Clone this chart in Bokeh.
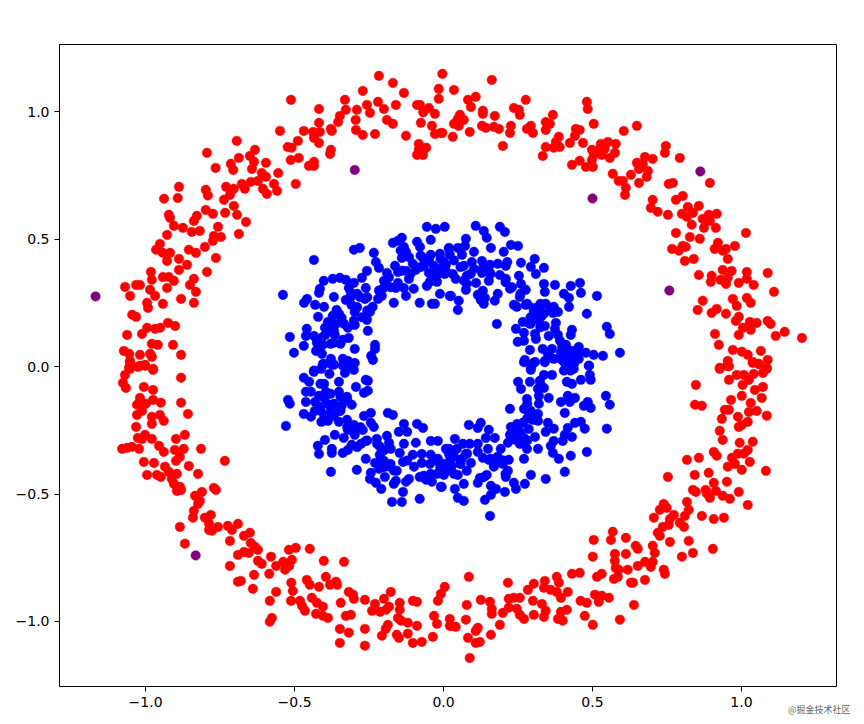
from bokeh.plotting import figure
from bokeh.models import FixedTicker, Title, Range1d
from bokeh.embed import file_html
from bokeh.resources import INLINE

outer_ring = [
(-0.217,1.140),(-0.170,1.112),(-0.271,1.081),(-0.133,1.073),(-0.004,1.148),(-0.016,1.089),(-0.016,1.050),(-0.512,1.046),(-0.331,1.046),(-0.418,1.010),
(-0.328,1.007),(-0.291,1.007),(-0.257,1.026),(-0.247,0.995),(-0.220,1.038),(-0.200,1.010),(-0.160,1.026),(-0.190,0.967),(-0.170,0.952),(-0.348,0.983),
(-0.354,0.959),(-0.295,0.967),(-0.418,0.956),(-0.549,0.924),(-0.469,0.924),(-0.438,0.920),(-0.415,0.920),(-0.378,0.932),(-0.375,0.924),(-0.435,0.897),
(-0.418,0.877),(-0.294,0.928),(-0.271,0.908),(-0.230,0.912),(-0.126,0.905),(-0.089,1.026),(-0.079,1.026),(-0.049,1.014),(-0.068,0.997),(-0.029,0.991),
(-0.076,0.956),(-0.039,0.944),(-0.029,0.912),(-0.009,0.916),(-0.083,0.873),(-0.058,0.858),(-0.089,0.830),(-0.069,0.830),(-0.083,0.850),(-0.489,0.885),
(-0.523,0.861),(-0.510,0.858),(-0.513,0.810),(-0.486,0.818),(-0.435,0.803),(-0.452,0.787),(-0.435,0.787),(-0.378,0.850),(-0.381,0.834),(-0.694,0.885),
(-0.794,0.838),(-0.633,0.850),(-0.650,0.826),(-0.687,0.818),(-0.636,0.803),(-0.596,0.799),(-0.714,0.795),(-0.765,0.779),(-0.706,0.771),(-0.643,0.775),
(-0.610,0.759),(-0.555,0.759),(-0.596,0.744),(-0.496,0.716),(-0.569,0.716),(-0.559,0.689),(-0.593,0.677),(-0.606,0.697),(-0.623,0.728),(-0.647,0.724),
(-0.667,0.697),(-0.677,0.716),(-0.704,0.697),(-0.730,0.705),(-0.717,0.673),(-0.737,0.654),(-0.888,0.705),(-0.798,0.693),(-0.791,0.671),(-0.938,0.658),
(-0.892,0.661),(-0.704,0.630),(-0.798,0.614),(-0.774,0.599),(-0.733,0.603),(-0.693,0.595),(-0.922,0.595),(-0.918,0.583),(-0.828,0.591),(-0.838,0.571),
(-0.663,0.567),(-0.905,0.552),(-0.875,0.544),(-0.757,0.548),(-0.845,0.528),(-0.818,0.532),(-0.687,0.520),(-0.928,0.516),(-0.771,0.512),(-0.747,0.508),
(-0.774,0.493),(-0.952,0.481),(-0.801,0.469),(-0.965,0.458),(-0.855,0.458),(-0.831,0.446),(-0.942,0.446),(-0.918,0.446),(-0.928,0.414),(-0.888,0.422),
(-0.764,0.426),(-0.861,0.399),(-0.888,0.379),(-0.982,0.371),(-0.794,0.371),(-0.942,0.351),(-0.922,0.351),(-0.979,0.340),(-0.905,0.336),(-0.838,0.344),
(-1.069,0.312),(-1.032,0.320),(-1.019,0.320),(-0.851,0.320),(-0.928,0.308),(-0.985,0.301),(-0.831,0.293),(-1.052,0.277),(-0.968,0.277),(-0.881,0.265),
(-0.995,0.250),(-0.942,0.246),(-0.838,0.250),(-0.992,0.230),(-1.045,0.203),(-1.032,0.195),(-0.925,0.171),(-0.901,0.159),(-0.995,0.152),(-0.968,0.148),
(-0.951,0.152),(-1.012,0.128),(-1.062,0.124),(-0.979,0.089),(-0.959,0.085),(-0.908,0.085),(-1.073,0.061),(-1.019,0.046),(-0.985,0.050),(-0.881,0.046),
(-0.979,0.038),(-1.055,0.050),(-1.052,0.022),(-1.052,-0.009),(-1.019,0.003),(-1.002,0.007),(-0.975,-0.009),
(0.162,1.124),(0.035,1.085),(0.082,1.046),(0.108,1.058),(0.092,1.018),(0.276,1.046),(0.236,1.014),(0.253,1.007),(0.132,1.003),(0.132,0.991),
(0.172,0.983),(0.256,0.987),(0.367,0.987),(0.055,0.987),(0.068,0.967),(0.048,0.971),(0.035,0.952),(0.051,0.944),(0.129,0.944),(0.142,0.936),
(0.169,0.940),(0.186,0.932),(0.226,0.944),(0.223,0.916),(0.088,0.920),(0.031,0.901),(-0.004,0.916),(0.199,0.865),(0.293,0.944),(0.280,0.932),
(0.300,0.916),(0.343,0.959),(0.357,0.952),(0.343,0.928),(0.481,1.038),(0.484,1.010),(0.504,0.952),(0.649,0.944),(0.605,0.924),(0.444,0.932),
(0.457,0.928),(0.441,0.905),(0.387,0.901),(0.424,0.877),(0.468,0.877),(0.377,0.881),(0.343,0.861),(0.370,0.858),(0.390,0.861),(0.333,0.826),
(0.528,0.873),(0.552,0.881),(0.578,0.873),(0.498,0.850),(0.525,0.854),(0.541,0.854),(0.575,0.838),(0.558,0.818),(0.531,0.830),(0.504,0.830),
(0.498,0.810),(0.457,0.807),(0.431,0.791),(0.478,0.783),(0.501,0.783),(0.746,0.865),(0.743,0.838),(0.793,0.818),(0.702,0.814),(0.676,0.822),
(0.649,0.799),(0.669,0.795),(0.656,0.775),(0.686,0.767),(0.629,0.752),(0.682,0.744),(0.568,0.756),(0.588,0.728),(0.602,0.728),(0.612,0.701),
(0.656,0.720),(0.609,0.673),(0.894,0.720),(0.756,0.716),(0.770,0.720),(0.803,0.669),(0.780,0.654),(0.702,0.654),(0.696,0.622),(0.719,0.607),
(0.857,0.630),(0.820,0.626),(0.753,0.595),(0.800,0.599),(0.837,0.603),(0.817,0.587),(0.917,0.599),(0.890,0.595),(0.870,0.579),(0.894,0.571),
(0.833,0.556),(0.874,0.544),(0.914,0.544),(1.015,0.524),(0.780,0.524),(0.827,0.508),(0.860,0.501),(0.921,0.485),(0.978,0.473),(0.803,0.473),
(0.767,0.461),(0.790,0.454),(0.813,0.469),(0.910,0.461),(0.937,0.454),(0.948,0.461),(0.954,0.422),(0.810,0.414),(0.840,0.422),(0.937,0.379),
(0.967,0.375),(1.018,0.371),(1.088,0.367),(0.857,0.359),(0.900,0.356),(0.897,0.332),(0.930,0.340),(0.948,0.324),(0.954,0.348),(0.991,0.328),
(1.018,0.344),(1.041,0.320),(1.109,0.293),(0.971,0.265),(1.018,0.269),(1.031,0.250),(0.870,0.258),(0.984,0.238),(0.853,0.222),(0.917,0.226),
(0.900,0.210),(0.948,0.207),(0.991,0.195),(0.981,0.179),(1.028,0.175),(1.051,0.171),(1.088,0.179),(1.098,0.167),(1.005,0.152),(1.031,0.144),
(1.145,0.136),(0.911,0.128),(0.991,0.124),(1.115,0.120),(1.203,0.112),(0.924,0.085),(0.971,0.065),(1.001,0.058),(1.065,0.061),(1.021,0.046),
(1.088,0.026),(1.038,0.018),(1.058,0.010),(0.954,0.022),(0.951,0.003),(0.927,-0.005),(0.958,0.001),(1.085,-0.005),
(-1.053,0.017),(-1.056,-0.005),(-1.026,-0.001),(-1.002,0.003),(-0.975,-0.013),(-1.069,-0.033),(-1.076,-0.064),(-1.066,-0.084),(-0.881,-0.044),(-1.006,-0.080),
(-0.975,-0.092),(-1.019,-0.123),(-0.881,-0.142),(-0.975,-0.131),(-0.949,-0.142),(-1.029,-0.150),(-0.999,-0.146),(-1.012,-0.174),(-1.029,-0.190),(-0.858,-0.186),
(-0.952,-0.190),(-0.979,-0.197),(-0.939,-0.213),(-0.979,-0.225),(-1.032,-0.237),(-0.868,-0.268),(-1.002,-0.268),(-1.026,-0.280),(-1.012,-0.284),(-0.979,-0.284),
(-0.898,-0.284),(-0.955,-0.311),(-1.079,-0.323),(-1.062,-0.319),(-1.046,-0.315),(-1.022,-0.323),(-0.939,-0.335),(-0.902,-0.327),(-0.872,-0.323),(-0.814,-0.323),
(-0.885,-0.354),(-0.898,-0.370),(-0.734,-0.370),(-1.006,-0.374),(-0.972,-0.378),(-0.855,-0.390),(-0.935,-0.393),(-0.895,-0.421),(-0.824,-0.421),(-0.922,-0.413),
(-0.995,-0.425),(-0.962,-0.425),(-0.949,-0.433),(-0.912,-0.441),(-0.905,-0.460),(-0.885,-0.472),(-0.881,-0.484),(-0.895,-0.488),(-0.771,-0.476),(-0.764,-0.484),
(-0.811,-0.492),(-0.834,-0.507),(-0.818,-0.527),(-0.824,-0.539),(-0.838,-0.566),(-0.841,-0.593),(-0.781,-0.582),(-0.801,-0.593),(-0.787,-0.617),(-0.757,-0.629),
(-0.787,-0.641),(-0.777,-0.644),(-0.885,-0.629),(-0.724,-0.625),(-0.690,-0.617),(-0.710,-0.641),(-0.650,-0.652),(-0.670,-0.664),(-0.717,-0.684),(-0.868,-0.695),
(-0.647,-0.692),(-0.633,-0.707),(-0.623,-0.719),(-0.670,-0.727),(-0.690,-0.739),(-0.653,-0.731),(-0.519,-0.719),(-0.496,-0.711),(-0.449,-0.715),(-0.579,-0.746),
(-0.509,-0.758),(-0.623,-0.762),(-0.610,-0.774),(-0.717,-0.782),(-0.402,-0.762),(-0.334,-0.766),(-0.562,-0.782),(-0.538,-0.766),(-0.518,-0.782),(-0.532,-0.797),
(-0.636,-0.817),(-0.585,-0.813),(-0.395,-0.825),(-0.459,-0.837),(-0.690,-0.844),(-0.680,-0.841),(-0.511,-0.848),(-0.361,-0.844),(-0.381,-0.856),(-0.449,-0.856),
(-0.418,-0.864),(-0.357,-0.856),(-0.640,-0.872),(-0.506,-0.880),(-0.562,-0.884),(-0.318,-0.884),(-0.177,-0.884),(0.004,-0.864),(-0.304,-0.895),(-0.301,-0.911),
(-0.264,-0.915),(-0.200,-0.911),(-0.009,-0.892),(-0.019,-0.919),(-0.583,-0.919),(-0.512,-0.919),(-0.482,-0.919),(-0.442,-0.907),(-0.475,-0.939),(-0.425,-0.927),
(-0.345,-0.927),(-0.230,-0.931),(-0.147,-0.927),(-0.103,-0.919),(-0.089,-0.923),(-0.465,-0.958),(-0.405,-0.942),(-0.183,-0.942),(-0.240,-0.958),(-0.213,-0.962),
(-0.193,-0.954),(-0.147,-0.954),(-0.428,-0.970),(-0.405,-0.978),(-0.388,-0.986),(-0.328,-0.978),(-0.311,-0.974),(-0.576,-0.986),(-0.583,-1.001),(-0.153,-0.986),
(-0.032,-0.978),(0.021,-0.990),(-0.143,-0.997),(-0.120,-1.005),(-0.187,-1.013),(-0.022,-1.009),(-0.089,-1.017),(0.021,-1.017),(-0.348,-1.029),(-0.264,-1.029),
(-0.194,-1.029),(-0.318,-1.044),(-0.120,-1.048),(-0.207,-1.056),(-0.157,-1.052),(-0.150,-1.064),(-0.036,-1.060),(-0.348,-1.084),(-0.103,-1.084),(-0.073,-1.080),
(-0.264,-1.095),
(0.085,-0.825),(0.216,-0.848),(0.303,-0.852),(0.283,-0.876),(0.340,-0.841),(0.380,-0.825),(0.387,-0.848),(0.431,-0.813),(0.457,-0.809),(0.515,-0.825),
(0.531,-0.813),(0.337,-0.868),(0.360,-0.876),(0.380,-0.884),(0.417,-0.884),(0.125,-0.915),(0.156,-0.923),(0.078,-0.935),(0.219,-0.911),(0.256,-0.907),
(0.236,-0.907),(0.300,-0.919),(0.330,-0.931),(0.394,-0.907),(0.460,-0.919),(0.481,-0.927),(0.508,-0.895),(0.531,-0.899),(0.555,-0.907),(0.521,-0.923),
(0.639,-0.935),(0.162,-0.950),(0.219,-0.946),(0.246,-0.950),(0.199,-0.966),(0.162,-0.970),(0.343,-0.958),(0.414,-0.954),(0.394,-0.962),(0.256,-0.974),
(0.303,-0.974),(0.337,-0.982),(0.474,-0.978),(0.075,-0.993),(0.270,-0.990),(0.384,-0.990),(0.400,-0.997),(0.592,-0.993),(0.189,-1.013),(0.501,-1.013),
(0.025,-1.017),(0.041,-1.021),(0.115,-1.025),(0.108,-1.037),(0.159,-1.052),(0.082,-1.064),(0.122,-1.080),(0.108,-1.084),(0.088,-1.143),
(0.568,-0.648),(0.504,-0.680),(0.562,-0.680),(0.612,-0.672),(0.645,-0.703),(0.652,-0.715),(0.575,-0.735),(0.612,-0.735),(0.501,-0.746),(0.575,-0.762),
(0.652,-0.782),(0.676,-0.766),(0.696,-0.786),(0.702,-0.766),(0.578,-0.790),(0.588,-0.797),(0.618,-0.797),(0.585,-0.825),(0.572,-0.833),(0.629,-0.848),
(0.636,-0.848),(0.676,-0.837),(0.739,-0.797),(0.743,-0.813),(0.800,-0.746),(0.837,-0.731),(0.904,-0.715),(0.702,-0.703),(0.709,-0.731),(0.760,-0.688),
(0.823,-0.684),(0.719,-0.652),(0.726,-0.664),(0.736,-0.629),(0.756,-0.621),(0.807,-0.629),(0.793,-0.613),(0.706,-0.593),(0.760,-0.598),(0.773,-0.582),
(0.810,-0.586),(0.823,-0.562),(0.867,-0.586),(0.907,-0.598),(0.941,-0.593),(0.726,-0.562),(0.749,-0.554),(0.739,-0.539),(0.817,-0.531),(1.021,-0.543),
(0.837,-0.484),(0.847,-0.492),(0.880,-0.484),(0.894,-0.515),(0.884,-0.499),(0.914,-0.488),(0.937,-0.507),(0.961,-0.519),(0.991,-0.492),(0.753,-0.433),
(0.843,-0.425),(0.890,-0.417),(0.907,-0.456),(0.951,-0.452),(1.082,-0.409),(1.001,-0.405),(0.954,-0.393),(0.817,-0.366),(0.857,-0.358),(0.978,-0.382),
(1.028,-0.374),(0.968,-0.358),(0.988,-0.342),(1.008,-0.342),(0.907,-0.335),(0.917,-0.350),(1.021,-0.327),(0.994,-0.299),(1.038,-0.295),(0.937,-0.288),
(0.927,-0.252),(0.991,-0.237),(1.001,-0.229),(1.021,-0.217),(0.934,-0.205),(0.988,-0.197),(1.085,-0.193),(0.944,-0.170),(0.958,-0.170),(1.025,-0.178),
(1.051,-0.174),(1.031,-0.143),(0.965,-0.131),(1.001,-0.115),(1.068,-0.123),(0.844,-0.150),(0.867,-0.154),(0.847,-0.072),(1.045,-0.092),(1.072,-0.080),
(0.958,-0.052),(1.004,-0.072),(0.984,-0.033),(1.008,-0.033),(1.025,-0.052),(1.041,-0.029),(1.072,-0.025),(1.085,-0.009),(0.927,-0.009),(0.954,0.003),
(1.038,0.014),(1.058,0.010),
]

inner_ring = [
(-0.056,0.548),(-0.026,0.540),(0.004,0.548),(-0.043,0.497),(-0.140,0.505),(-0.170,0.485),(-0.089,0.489),(-0.301,0.458),(-0.281,0.465),(-0.234,0.446),
(-0.153,0.493),(-0.133,0.469),(-0.126,0.450),(-0.140,0.426),(-0.079,0.469),(-0.435,0.418),(-0.227,0.410),(-0.043,0.438),(-0.069,0.426),(-0.012,0.442),
(0.018,0.461),(-0.163,0.395),(-0.103,0.403),(-0.066,0.395),(-0.033,0.395),(0.001,0.410),(-0.257,0.375),(-0.217,0.387),(-0.190,0.367),(-0.153,0.371),
(-0.126,0.375),(-0.093,0.379),(-0.049,0.367),(-0.016,0.363),(-0.402,0.336),(-0.372,0.344),(-0.348,0.348),(-0.328,0.340),(-0.274,0.348),(-0.301,0.328),
(-0.200,0.336),(-0.153,0.328),(-0.116,0.344),(-0.046,0.332),(-0.022,0.332),(-0.415,0.305),(-0.418,0.289),(-0.318,0.308),(-0.261,0.308),(-0.204,0.305),
(-0.160,0.308),(-0.133,0.308),(-0.100,0.305),(-0.056,0.316),(-0.539,0.281),(-0.012,0.285),(0.021,0.277),(-0.311,0.289),(-0.368,0.273),(-0.281,0.273),
(-0.207,0.277),(-0.126,0.277),(-0.458,0.265),(-0.328,0.261),(-0.264,0.265),(-0.220,0.265),(-0.468,0.250),(-0.431,0.242),(-0.401,0.234),(-0.167,0.250),
(-0.080,0.250),(-0.039,0.246),(-0.029,0.246),(-0.309,0.242),(-0.238,0.234),(-0.359,0.222),(-0.298,0.214),(-0.247,0.214),(-0.421,0.195),(-0.372,0.199),
(-0.342,0.191),(-0.257,0.183),(-0.388,0.175),(-0.361,0.167),(-0.298,0.163),(-0.321,0.152),(-0.459,0.148),(-0.398,0.152),(-0.254,0.140),(-0.462,0.120),
(-0.516,0.116),(-0.435,0.120),(-0.397,0.124),(-0.365,0.124),(-0.318,0.112),(-0.338,0.105),(-0.230,0.085),(-0.469,0.081),(-0.425,0.093),(-0.405,0.085),
(-0.369,0.093),(-0.298,0.069),(-0.230,0.069),(-0.502,0.054),(-0.428,0.061),(-0.408,0.050),(-0.243,0.042),(-0.237,0.026),(-0.378,0.030),(-0.338,0.030),
(-0.321,0.022),(-0.298,0.014),(-0.401,0.010),(-0.367,0.007),(-0.338,0.003),(-0.411,-0.009),(-0.435,-0.016),(-0.309,-0.003),
(0.108,0.552),(0.189,0.548),(0.135,0.532),(0.206,0.528),(0.145,0.505),(0.075,0.501),(0.159,0.465),(0.226,0.477),(0.250,0.473),(0.018,0.465),
(0.048,0.465),(0.072,0.473),(0.102,0.450),(0.202,0.450),(0.021,0.438),(0.062,0.438),(0.306,0.422),(-0.010,0.422),(0.214,0.410),(0.129,0.414),
(0.095,0.410),(0.260,0.407),(0.182,0.403),(0.156,0.399),(0.068,0.395),(0.008,0.399),(0.293,0.391),(0.337,0.387),(0.209,0.395),(0.102,0.383),
(0.129,0.367),(0.156,0.367),(0.031,0.363),(0.253,0.356),(0.310,0.363),(0.189,0.359),(0.004,0.363),(0.078,0.356),(0.209,0.344),(0.041,0.344),
(0.152,0.336),(0.260,0.324),(0.337,0.324),(0.374,0.320),(0.458,0.328),(0.427,0.316),(0.078,0.324),(0.109,0.328),(0.223,0.305),(0.276,0.301),
(0.340,0.293),(0.461,0.289),(0.132,0.297),(0.075,0.301),(0.182,0.285),(0.404,0.285),(0.515,0.277),(0.025,0.277),(0.115,0.281),(0.139,0.269),
(0.256,0.273),(0.421,0.269),(0.051,0.258),(0.172,0.258),(0.125,0.261),(0.135,0.246),(0.236,0.242),(0.276,0.242),(0.343,0.246),(0.370,0.234),
(0.421,0.234),(0.246,0.234),(0.048,0.222),(0.303,0.230),(0.323,0.226),(0.384,0.214),(0.367,0.210),(0.481,0.207),(0.303,0.203),(0.330,0.199),
(0.266,0.175),(0.286,0.171),(0.320,0.179),(0.377,0.171),(0.179,0.167),(0.340,0.159),(0.374,0.148),(0.548,0.156),(0.243,0.148),(0.431,0.144),
(0.270,0.132),(0.307,0.128),(0.558,0.128),(0.427,0.124),(0.353,0.120),(0.384,0.124),(0.270,0.101),(0.310,0.108),(0.249,0.097),(0.391,0.101),
(0.411,0.085),(0.290,0.065),(0.333,0.069),(0.364,0.069),(0.454,0.077),(0.431,0.061),(0.592,0.054),(0.535,0.042),(0.504,0.046),(0.478,0.054),
(0.350,0.050),(0.394,0.054),(0.421,0.042),(0.370,0.030),(0.454,0.030),(0.273,0.026),(0.307,0.018),(0.340,0.022),(0.404,0.018),(0.437,0.010),
(0.488,0.003),(0.293,-0.005),(0.414,-0.005),(0.395,0.035),(0.440,0.045),(0.410,0.045),(0.425,0.015),
(-0.405,0.010),(-0.375,0.007),(-0.334,0.010),(-0.435,-0.021),(-0.301,-0.013),(-0.469,-0.044),(-0.383,-0.029),(-0.331,-0.025),(-0.451,-0.060),(-0.401,-0.068),
(-0.351,-0.060),(-0.261,-0.052),(-0.254,-0.056),(-0.294,-0.080),(-0.462,-0.099),(-0.445,-0.099),(-0.395,-0.099),(-0.351,-0.099),(-0.267,-0.103),(-0.254,-0.095),
(-0.324,-0.119),(-0.418,-0.115),(-0.522,-0.131),(-0.462,-0.139),(-0.431,-0.139),(-0.401,-0.123),(-0.516,-0.146),(-0.308,-0.150),(-0.342,-0.154),(-0.415,-0.158),
(-0.378,-0.166),(-0.432,-0.174),(-0.348,-0.174),(-0.469,-0.186),(-0.267,-0.194),(-0.244,-0.182),(-0.187,-0.182),(-0.170,-0.190),(-0.445,-0.197),(-0.401,-0.190),
(-0.368,-0.194),(-0.324,-0.209),(-0.410,-0.217),(-0.388,-0.213),(-0.351,-0.217),(-0.133,-0.225),(-0.089,-0.225),(-0.244,-0.221),(-0.529,-0.233),(-0.301,-0.229),
(-0.234,-0.237),(-0.069,-0.241),(-0.271,-0.249),(-0.321,-0.249),(-0.150,-0.256),(-0.122,-0.256),(-0.365,-0.268),(-0.298,-0.268),(-0.190,-0.272),(-0.224,-0.284),
(-0.335,-0.280),(-0.398,-0.288),(-0.043,-0.292),(-0.261,-0.292),(-0.019,-0.292),(-0.093,-0.299),(-0.133,-0.303),(-0.183,-0.299),(-0.277,-0.303),(-0.422,-0.311),
(-0.308,-0.307),(-0.213,-0.315),(-0.375,-0.323),(-0.177,-0.323),(0.008,-0.323),(-0.321,-0.327),(-0.375,-0.339),(-0.338,-0.339),(-0.418,-0.343),(-0.147,-0.339),
(-0.103,-0.346),(-0.073,-0.343),(-0.043,-0.346),(0.018,-0.343),(-0.214,-0.346),(-0.261,-0.362),(-0.019,-0.362),(-0.200,-0.370),(-0.230,-0.378),(-0.136,-0.374),
(-0.073,-0.378),(-0.046,-0.382),(0.001,-0.382),(-0.099,-0.393),(-0.180,-0.393),(-0.009,-0.397),(-0.217,-0.401),(-0.378,-0.413),(-0.291,-0.405),(-0.157,-0.409),
(0.018,-0.405),(-0.244,-0.417),(-0.197,-0.433),(-0.043,-0.421),(-0.080,-0.433),(0.001,-0.425),(-0.116,-0.441),(-0.247,-0.441),(-0.227,-0.456),(-0.160,-0.448),
(-0.126,-0.452),(-0.059,-0.444),(-0.039,-0.452),(-0.167,-0.460),(-0.009,-0.472),(-0.209,-0.480),(-0.136,-0.492),(-0.080,-0.519),(-0.173,-0.531),(-0.140,-0.531),
(0.270,0.017),(0.303,0.014),(0.340,0.017),(0.488,0.003),(0.293,-0.013),(0.337,-0.033),(0.364,-0.033),(0.414,-0.009),(0.437,-0.009),(0.491,-0.033),
(0.250,-0.060),(0.290,-0.060),(0.323,-0.056),(0.414,-0.060),(0.431,-0.068),(0.461,-0.052),(0.494,-0.052),(0.260,-0.088),(0.317,-0.088),(0.337,-0.084),
(0.320,-0.115),(0.353,-0.123),(0.417,-0.115),(0.441,-0.123),(0.545,-0.115),(0.280,-0.127),(0.394,-0.139),(0.424,-0.139),(0.484,-0.139),(0.558,-0.150),
(0.320,-0.146),(0.223,-0.166),(0.270,-0.166),(0.471,-0.154),(0.494,-0.162),(0.407,-0.182),(0.286,-0.182),(0.317,-0.186),(0.280,-0.205),(0.300,-0.209),
(0.317,-0.213),(0.085,-0.229),(0.125,-0.221),(0.266,-0.221),(0.350,-0.221),(0.441,-0.221),(0.461,-0.217),(0.115,-0.241),(0.226,-0.237),(0.417,-0.241),
(0.370,-0.244),(0.474,-0.244),(0.548,-0.244),(0.152,-0.248),(0.246,-0.245),(0.286,-0.245),(0.343,-0.256),(0.223,-0.268),(0.172,-0.280),(0.407,-0.268),
(0.431,-0.276),(0.307,-0.276),(0.038,-0.284),(0.142,-0.280),(0.270,-0.280),(0.243,-0.288),(0.370,-0.292),(0.400,-0.292),(0.216,-0.299),(0.088,-0.303),
(0.115,-0.303),(0.065,-0.303),(0.256,-0.303),(0.018,-0.323),(0.149,-0.323),(0.192,-0.323),(0.280,-0.323),(0.317,-0.323),(0.360,-0.311),(0.045,-0.323),
(0.075,-0.343),(0.115,-0.335),(0.481,-0.335),(0.367,-0.339),(0.132,-0.358),(0.035,-0.354),(0.182,-0.354),(0.427,-0.350),(0.270,-0.362),(0.387,-0.362),
(0.219,-0.366),(0.152,-0.366),(0.062,-0.362),(0.092,-0.378),(0.169,-0.393),(0.199,-0.382),(0.008,-0.393),(0.028,-0.390),(0.078,-0.409),(0.216,-0.409),
(0.407,-0.413),(0.048,-0.425),(0.145,-0.425),(0.293,-0.425),(0.209,-0.433),(0.343,-0.441),(0.122,-0.437),(0.115,-0.456),(0.068,-0.460),(0.236,-0.456),
(0.273,-0.460),(0.159,-0.468),(-0.006,-0.472),(0.038,-0.480),(0.176,-0.480),(0.243,-0.480),(0.206,-0.492),(0.159,-0.503),(0.048,-0.515),(0.139,-0.523),
(0.068,-0.527),(0.156,-0.586),
(-0.379,0.167),(-0.390,0.141),(-0.407,0.115),(-0.368,0.141),(-0.351,0.207),(-0.334,0.167),(-0.301,0.180),(-0.273,0.193),(-0.256,0.220),(-0.290,0.233),
(-0.312,0.272),(-0.290,0.285),(-0.256,0.272),(-0.217,0.298),(-0.195,0.324),(-0.183,0.350),(-0.178,0.311),(-0.139,0.376),(-0.111,0.363),(-0.077,0.390),
(-0.049,0.416),(-0.032,0.363),(-0.010,0.383),(-0.144,0.455),(-0.116,0.429),(-0.077,0.435),(-0.424,0.102),(-0.418,0.076),(-0.379,0.089),(-0.346,0.089),
(0.303,0.220),(0.337,0.207),(0.325,0.246),(0.292,0.193),(0.359,0.220),(0.281,0.246),(0.258,0.285),(0.230,0.311),(0.208,0.331),(0.158,0.363),
(0.130,0.383),(0.091,0.363),(0.057,0.390),(0.035,0.416),(0.007,0.376),(0.068,0.337),(0.124,0.285),(0.292,0.167),(0.325,0.154),(0.398,0.076),
(0.421,0.063),(0.409,0.037),(0.432,0.030),(0.393,0.030),(0.449,0.050),(0.415,0.010),(0.432,0.004),
(-0.413,-0.068),(-0.379,-0.107),(-0.346,-0.120),(-0.390,-0.146),(-0.368,-0.146),(-0.413,-0.173),(-0.323,-0.133),(-0.346,-0.173),(-0.390,-0.199),(-0.323,-0.238),
(-0.301,-0.251),(-0.279,-0.238),(-0.223,-0.303),(-0.200,-0.329),(-0.211,-0.369),(-0.178,-0.382),(-0.167,-0.408),(-0.200,-0.395),(-0.122,-0.369),(-0.032,-0.369),
(-0.010,-0.395),(-0.021,-0.421),(0.012,-0.382),(-0.066,-0.428),(-0.256,-0.290),(-0.290,-0.316),
(0.012,-0.408),(-0.010,-0.395),(0.035,-0.421),(0.057,-0.369),(0.035,-0.329),(0.079,-0.342),(0.057,-0.382),(0.023,-0.356),(0.180,-0.356),(0.202,-0.369),
(0.169,-0.382),(0.158,-0.362),(0.230,-0.264),(0.258,-0.258),(0.247,-0.225),(0.281,-0.290),(0.292,-0.173),(0.303,-0.192),(0.281,-0.146),(0.325,-0.068),
(0.415,0.010),(0.437,0.010),(0.426,-0.016),(0.404,-0.016),(0.208,-0.421),(0.135,-0.434),
]

stray_points = [(-0.298,0.771),(-1.168,0.275),(0.500,0.659),(0.862,0.765),(0.758,0.298),(-0.832,-0.741)]

x_ticks = [-1.0, -0.5, 0.0, 0.5, 1.0]
y_ticks = [-1.0, -0.5, 0.0, 0.5, 1.0]
x_labels = ["\u22121.0", "\u22120.5", "0.0", "0.5", "1.0"]
y_labels = ["\u22121.0", "\u22120.5", "0.0", "0.5", "1.0"]
watermark = "@掘金技术社区"

p = figure(width=860, height=720, output_backend="svg", toolbar_location=None,
           x_range=Range1d(-1.289, 1.319), y_range=Range1d(-1.255, 1.263),
           min_border_left=59, min_border_right=24, min_border_top=44, min_border_bottom=34)
p.grid.visible = False
p.outline_line_color = "black"
p.outline_line_width = 1
p.background_fill_color = "white"

for pts, col in ((outer_ring, "#ff0000"), (inner_ring, "#0000ff"), (stray_points, "#800080")):
    p.scatter([a for a, _ in pts], [b for _, b in pts], size=9.5, fill_color=col, line_color=col, line_width=0.5)

p.xaxis.ticker = FixedTicker(ticks=x_ticks)
p.yaxis.ticker = FixedTicker(ticks=y_ticks)
p.xaxis.major_label_overrides = dict(zip(x_ticks, x_labels))
p.yaxis.major_label_overrides = dict(zip(y_ticks, y_labels))
for ax in (p.xaxis[0], p.yaxis[0]):
    ax.major_label_text_font = "DejaVu Sans"
    ax.major_label_text_font_size = "14px"
    ax.major_label_text_color = "black"
    ax.major_tick_in = 0
    ax.major_tick_out = 5
    ax.major_tick_line_color = "black"
    ax.minor_tick_line_color = None
    ax.axis_line_color = "black"
p.add_layout(Title(text=watermark, align="right", offset=-14, standoff=-14, vertical_align="top",
                   text_font="Noto Sans CJK SC", text_font_size="9px", text_font_style="normal",
                   text_color="#666666"), "below")

open("out.html", "w").write(file_html(p, INLINE))
